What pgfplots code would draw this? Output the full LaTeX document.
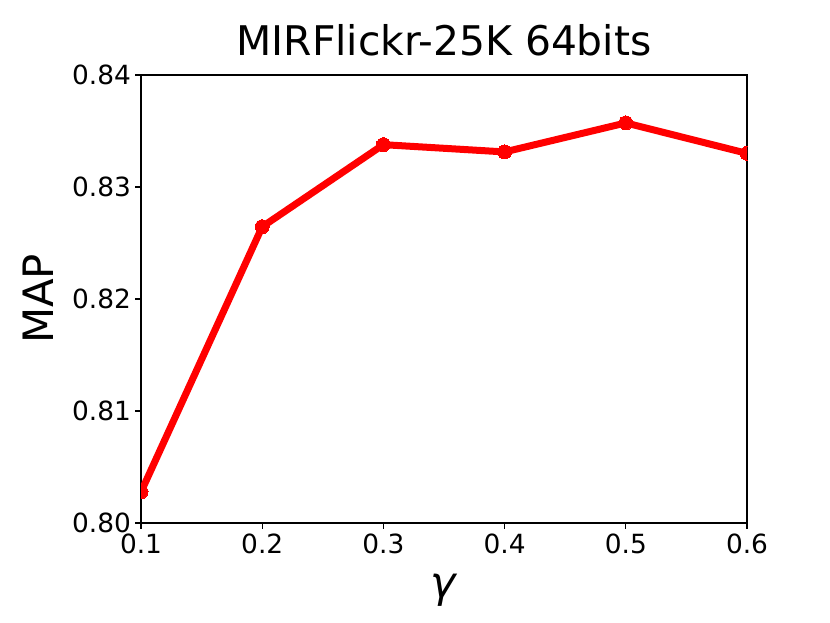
\documentclass[border=0pt]{standalone}
\usepackage{pgfplots}
\pgfplotsset{compat=1.18}
\usepackage{fontspec}
\setmainfont{DejaVu Sans}
\begin{document}
\begin{tikzpicture}[x=1bp,y=1bp]
\path[use as bounding box] (0,0) rectangle (830,623);
\begin{axis}[
  at={(141bp,100bp)}, anchor=south west,
  scale only axis, width=606bp, height=448bp,
  xmin=0.1, xmax=0.6, ymin=0.80, ymax=0.84,
  xtick={0.1,0.2,0.3,0.4,0.5,0.6},
  ytick={0.80,0.81,0.82,0.83,0.84},
  axis line style={line width=1.3bp, black},
  tick style={line width=1.3bp, black},
  tick align=outside, major tick length=6bp,
  xtick pos=bottom, ytick pos=left,
  /pgf/number format/assume math mode=true,
  xticklabel style={/pgf/number format/fixed, /pgf/number format/fixed zerofill, /pgf/number format/precision=1, yshift=-1bp},
  yticklabel style={/pgf/number format/fixed, /pgf/number format/fixed zerofill, /pgf/number format/precision=2, xshift=-0.5bp},
  ticklabel style={font=\fontsize{26.5}{30}\selectfont},
  title={MIRFlickr-25K 64bits},
  title style={font=\fontsize{41}{46}\selectfont, at={(axis description cs:0.5,1)}, anchor=base, yshift=14bp},
  ylabel={MAP},
  ylabel style={font=\fontsize{42}{50}\selectfont, at={(axis description cs:-0.170,0.5)}, anchor=center},
  xlabel={\textit{γ}},
  xlabel style={font=\fontsize{43}{50}\selectfont, at={(axis description cs:0.5,-0.150)}, anchor=center},
  clip marker paths=true,
]
\addplot[color=red, line width=7bp, mark=*, mark size=7bp, mark options={solid, fill=red, draw=red, line width=0bp}]
coordinates {
(0.1,0.80277)
(0.2,0.82645)
(0.3,0.83378)
(0.4,0.83313)
(0.5,0.83572)
(0.6,0.83300)
};
\end{axis}
\end{tikzpicture}
\end{document}
